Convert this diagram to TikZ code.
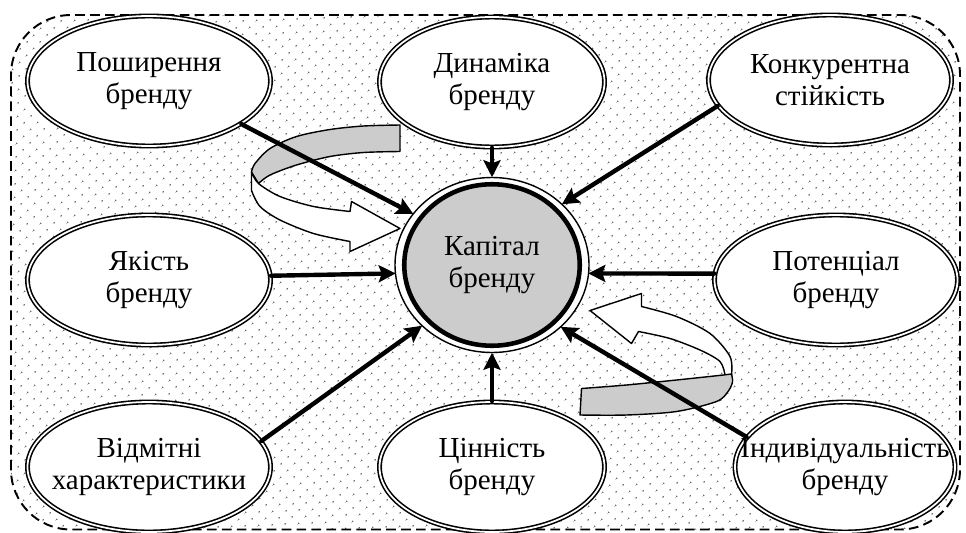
\documentclass[tikz,border=0pt]{standalone}
\usepackage{fontspec}
\setmainfont{Liberation Serif}
\usetikzlibrary{arrows.meta,shapes.geometric,patterns.meta}

\tikzset{
  brand/.style={ellipse,draw,fill=white,double,line width=0.9pt,double distance=1pt,
    inner xsep=-8mm,inner ysep=0pt,minimum width=4.86cm,minimum height=2.6cm,align=center},
  midbrand/.style={brand,minimum width=4.5cm},
  feed/.style={line width=2.5pt,-{Stealth[length=3.4mm,width=3.4mm,inset=0.6mm]}},
  ribbon/.style={draw,line width=0.8pt,line join=round},
}

\begin{document}
\begin{tikzpicture}[font=\fontsize{16.5}{18.5}\selectfont,line cap=round]
\useasboundingbox (0,0) rectangle (19.32,10.64);
% dotted field
\path[pattern={Dots[distance=5.4pt,angle=45,radius=0.5pt]},pattern color=black!70,rounded corners=1.2cm]
  (0.22,0.05) rectangle (19.2,10.34);
\draw[line width=1.1pt,dash pattern=on 5.5pt off 3pt,line cap=butt,rounded corners=1.2cm]
  (0.22,0.05) rectangle (19.2,10.34);

% curved arrow, upper left
\filldraw[ribbon,fill=gray!40] plot[smooth] coordinates {(8.00,8.14) (7.27,8.12) (6.60,8.05) (5.93,7.91) (5.40,7.67) (5.10,7.37) (5.03,7.20)}
  -- plot[smooth] coordinates {(5.17,6.97) (5.40,7.14) (5.93,7.34) (6.60,7.51) (7.27,7.59) (8.00,7.61)} -- cycle;
\filldraw[ribbon,fill=white] (5.03,7.20) -- (5.03,6.83)
  -- plot[smooth] coordinates {(5.03,6.83) (5.20,6.51) (5.60,6.24) (6.27,5.97) (7.00,5.81)}
  -- (7.00,5.61) -- (8.00,6.07) -- (7.03,6.61) -- (7.00,6.41)
  -- plot[smooth] coordinates {(7.00,6.41) (6.27,6.51) (5.60,6.71) (5.17,6.97) (5.03,7.20)} -- cycle;

% curved arrow, lower right
\filldraw[ribbon,fill=white] (11.80,4.43) -- (12.83,4.77) -- (12.83,4.51)
  -- plot[smooth] coordinates {(12.83,4.51) (13.53,4.31) (14.20,3.97) (14.60,3.51) (14.63,3.14)}
  -- (14.50,3.10)
  -- plot[smooth] coordinates {(14.50,3.14) (14.40,3.41) (14.00,3.64) (13.40,3.87) (12.77,4.01)}
  -- (12.63,3.77) -- cycle;
\filldraw[ribbon,fill=gray!40] plot[smooth] coordinates {(11.63,2.87) (12.53,2.94) (13.53,3.04) (14.47,3.14)}
  -- plot[smooth] coordinates {(14.63,3.16) (14.65,3.00) (14.56,2.81) (14.33,2.61) (13.53,2.41) (12.53,2.34) (11.60,2.34)} -- cycle;

% brand factors
\node[brand]    (posh)   at (2.98,9.02)  {Поширення\\бренду};
\node[midbrand] (dyn)    at (9.84,9.00)  {Динаміка\\бренду};
\node[brand]    (konk)   at (16.60,9.04) {Конкурентна\\стійкість};
\node[brand]    (yakist) at (2.98,5.04)  {Якість\\бренду};
\node[brand]    (potenc) at (16.72,5.04) {Потенціал\\бренду};
\node[brand]    (vidm)   at (2.98,1.30)  {Відмітні\\характеристики};
\node[midbrand] (tsin)   at (9.84,1.30)  {Цінність\\бренду};
\node[brand,minimum width=4.4cm] (indyv) at (16.90,1.30) {Індивідуальність\\бренду};

% centre
\coordinate (kc) at (9.84,5.34);
\draw[line width=0.8pt,fill=white] (kc) ellipse (1.94cm and 1.75cm);
\node[ellipse,draw,line width=2.6pt,fill=gray!40,minimum width=3.51cm,minimum height=3.23cm,
  inner sep=0pt,outer xsep=0.18cm,outer ysep=0.14cm,align=center] (kapital) at (kc) {Капітал\\бренду};

\draw[feed] (posh.335)   -- (kapital.147);
\draw[feed] (dyn)        -- (kapital);
\draw[feed] (konk.193)   -- (kapital.41);
\draw[feed] (yakist.2)   -- (kapital.185);
\draw[feed] (potenc.177) -- (kapital.355);
\draw[feed] (vidm.13)    -- (kapital.221);
\draw[feed] (tsin)       -- (kapital);
\draw[feed] (indyv.163)  -- (kapital.318);
\end{tikzpicture}
\end{document}
